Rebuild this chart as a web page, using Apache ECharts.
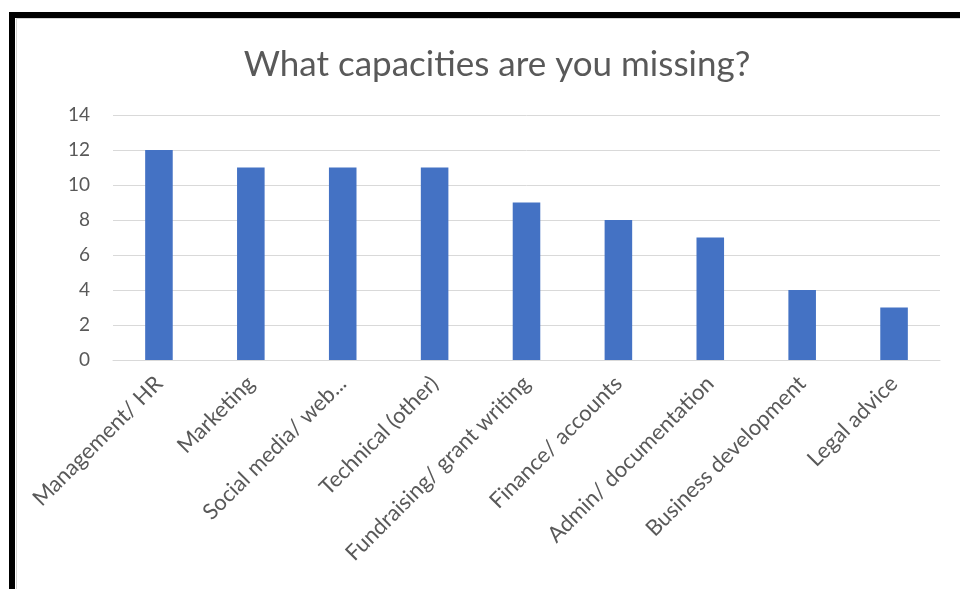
<!DOCTYPE html>
<html>
<head>
<meta charset="utf-8">
<style>
  html, body { margin: 0; padding: 0; background: #ffffff; }
  #chart { width: 960px; height: 589px; }
</style>
<script src="https://cdn.jsdelivr.net/npm/echarts@6/dist/echarts.min.js"></script>
</head>
<body>
<div id="chart"></div>
<script>
// Survey answers: which capacities organisations say they lack
const categories = [
  'Management/ HR',
  'Marketing',
  'Social media/ web...',
  'Technical (other)',
  'Fundraising/ grant writing',
  'Finance/ accounts',
  'Admin/ documentation',
  'Business development',
  'Legal advice'
];
const responses = [12, 11, 11, 11, 9, 8, 7, 4, 3];
const yTicks = { min: 0, max: 14, step: 2 };

const textGray = '#595959';
const gridGray = '#d9d9d9';
const barBlue = '#4472C4';
const fontFace = 'Lato, "Liberation Sans", sans-serif';

const chart = echarts.init(document.getElementById('chart'), null, { renderer: 'canvas' });

chart.setOption({
  animation: false,
  backgroundColor: '#ffffff',
  title: {
    text: 'What capacities are you missing?',
    left: 492,
    top: 42,
    textAlign: 'center',
    textStyle: { color: textGray, fontFamily: fontFace, fontSize: 35, fontWeight: 'normal' }
  },
  grid: { left: 113, right: 20, top: 115, bottom: 229, containLabel: false },
  xAxis: {
    type: 'category',
    data: categories,
    axisLine: { show: true, lineStyle: { color: gridGray, width: 1 } },
    axisTick: { show: false },
    axisLabel: {
      rotate: 45,
      interval: 0,
      margin: 20,
      color: textGray,
      fontFamily: fontFace,
      fontSize: 22
    }
  },
  yAxis: {
    type: 'value',
    min: yTicks.min,
    max: yTicks.max,
    interval: yTicks.step,
    axisLine: { show: false },
    axisTick: { show: false },
    splitLine: { lineStyle: { color: gridGray, width: 1 } },
    axisLabel: { margin: 23, color: textGray, fontFamily: fontFace, fontSize: 19 }
  },
  series: [{
    type: 'bar',
    data: responses,
    barWidth: '30%',
    itemStyle: { color: barBlue }
  }],
  graphic: [
    // frame edge shadow
    {
      type: 'rect', silent: true, z: 10,
      shape: { x: 16.5, y: 18.5, width: 2000, height: 2000 },
      style: { fill: null, stroke: '#d4d4d4', lineWidth: 1 }
    },
    // heavy frame around the chart
    {
      type: 'rect', silent: true, z: 11,
      shape: { x: 12, y: 15, width: 2000, height: 2000 },
      style: { fill: null, stroke: '#000000', lineWidth: 6 }
    }
  ]
});
</script>
</body>
</html>
